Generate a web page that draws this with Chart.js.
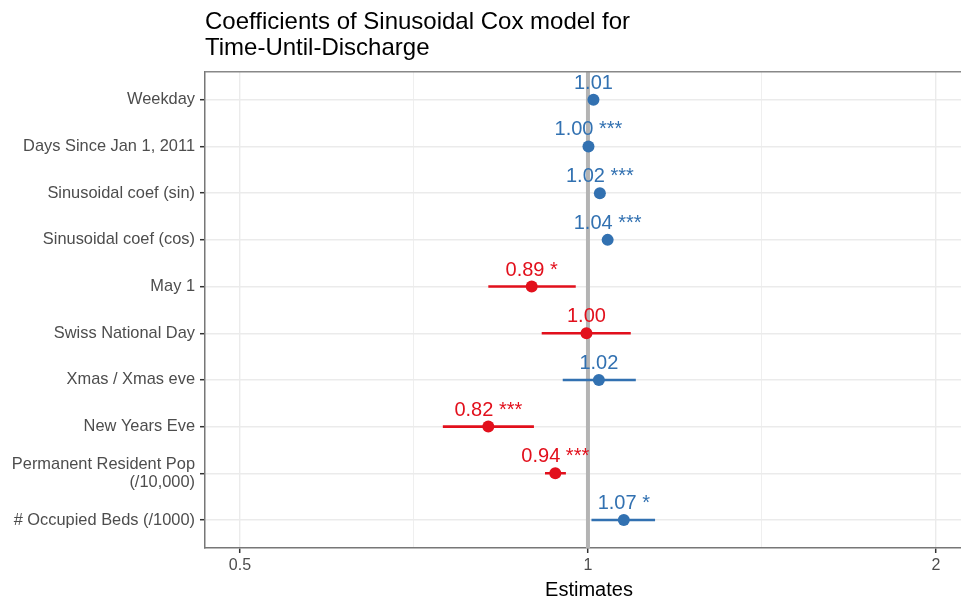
<!DOCTYPE html>
<html lang="en">
<head>
  <meta charset="UTF-8">
  <title>Coefficients of Sinusoidal Cox model</title>
  <script src="https://cdn.jsdelivr.net/npm/chart.js"></script>
  <style>
    body { margin: 0; background: #fff; overflow: hidden; }
  </style>
</head>
<body>
  <!-- the panel runs a little past the right edge of the window, as in the original -->
  <canvas id="chartCoef" width="973" height="597"></canvas>

  <script>
    // row labels, top to bottom
    const categories = [
      'Weekday',
      'Days Since Jan 1, 2011',
      'Sinusoidal coef (sin)',
      'Sinusoidal coef (cos)',
      'May 1',
      'Swiss National Day',
      'Xmas / Xmas eve',
      'New Years Eve',
      ['Permanent Resident Pop', '(/10,000)'],
      '# Occupied Beds (/1000)'
    ];
    const estimates = [1.011, 1.001, 1.024, 1.040, 0.894, 0.997, 1.022, 0.820, 0.937, 1.074];
    const ciLow  = [1.006, 1.000, 1.019, 1.035, 0.820, 0.912, 0.951, 0.749, 0.918, 1.007];
    const ciHigh = [1.016, 1.002, 1.029, 1.045, 0.976, 1.089, 1.100, 0.898, 0.957, 1.143];
    const stars  = ['', '***', '***', '***', '*', '', '', '***', '***', '*'];

    const xTickValues = [0.5, 0.7071, 1, 1.4142, 2];
    const xTickLabels = ['0.5', '', '1', '', '2'];

    const BLUE = '#3271b1';
    const RED = '#e2101c';
    const colorOf = v => v < 1 ? RED : BLUE;

    // error bars, one small line per row
    const ciSets = categories.map((c, i) => ({
      type: 'line',
      data: [{ x: ciLow[i], y: i }, { x: ciHigh[i], y: i }],
      borderColor: colorOf(estimates[i]),
      borderWidth: 2.6,
      pointRadius: 0,
      order: 2
    }));

    const pointSet = {
      type: 'scatter',
      data: estimates.map((e, i) => ({ x: e, y: i })),
      pointBackgroundColor: estimates.map(colorOf),
      pointBorderWidth: 0,
      pointRadius: 6,
      order: 1
    };

    // grey reference line at 1 + frame on top
    const refLine = {
      id: 'refLine',
      beforeDatasetsDraw(chart) {
        const { ctx, chartArea, scales } = chart;
        const x = scales.x.getPixelForValue(1);
        ctx.save();
        ctx.strokeStyle = '#b4b4b4';
        ctx.lineWidth = 4;
        ctx.beginPath();
        ctx.moveTo(x, chartArea.top);
        ctx.lineTo(x, chartArea.bottom);
        ctx.stroke();
        ctx.strokeStyle = '#888';
        ctx.lineWidth = 1.5;
        ctx.beginPath();
        ctx.moveTo(chartArea.left, chartArea.top);
        ctx.lineTo(chartArea.right, chartArea.top);
        ctx.stroke();
        ctx.restore();
      }
    };

    // value labels above points
    const valueLabels = {
      id: 'valueLabels',
      afterDatasetsDraw(chart) {
        const ctx = chart.ctx;
        const meta = chart.getDatasetMeta(chart.data.datasets.length - 1);
        ctx.save();
        ctx.font = '20px "Liberation Sans", Arial, sans-serif';
        ctx.textAlign = 'center';
        ctx.textBaseline = 'alphabetic';
        meta.data.forEach((pt, i) => {
          const txt = estimates[i].toFixed(2) + (stars[i] ? ' ' + stars[i] : '');
          ctx.fillStyle = colorOf(estimates[i]);
          ctx.fillText(txt, pt.x, pt.y - 11);
        });
        ctx.restore();
      }
    };

    new Chart(document.getElementById('chartCoef'), {
      data: { datasets: [...ciSets, pointSet] },
      options: {
        responsive: false,
        animation: false,
        layout: { autoPadding: false, padding: 0 },
        plugins: {
          legend: { display: false },
          tooltip: { enabled: false },
          title: {
            display: true,
            text: ['Coefficients of Sinusoidal Cox model for', 'Time-Until-Discharge'],
            align: 'start',
            fullSize: false,
            color: '#000',
            font: { family: '"Liberation Sans", Arial, sans-serif', size: 24, weight: 'normal', lineHeight: 1.1 },
            padding: { top: 9, bottom: 10 }
          }
        },
        scales: {
          x: {
            type: 'logarithmic',
            min: 0.4664,
            max: 2.153,
            afterBuildTicks: s => { s.ticks = xTickValues.map(v => ({ value: v })); },
            afterFit: s => { s.height = 49; s.paddingLeft = 0; s.paddingRight = 0; },
            ticks: {
              autoSkip: false,
              maxRotation: 0,
              padding: 3,
              color: '#4d4d4d',
              font: { family: '"Liberation Sans", Arial, sans-serif', size: 16 },
              callback: (v, i) => xTickLabels[i]
            },
            grid: {
              color: '#ebebeb',
              lineWidth: c => (c.index % 2 ? 0.8 : 1.4),
              tickColor: c => (c.index % 2 ? 'rgba(0,0,0,0)' : '#333'),
              tickLength: 5,
              tickWidth: 1.5
            },
            border: { color: '#777', width: 1.5 },
            title: {
              display: true,
              text: 'Estimates',
              color: '#000',
              font: { family: '"Liberation Sans", Arial, sans-serif', size: 20 },
              padding: { top: 0, bottom: -5 }
            }
          },
          y: {
            type: 'linear',
            reverse: true,
            min: -0.6,
            max: 9.6,
            afterBuildTicks: s => { s.ticks = categories.map((c, i) => ({ value: i })); },
            afterFit: s => { s.width = 205; },
            ticks: {
              autoSkip: false,
              padding: 5,
              color: '#4d4d4d',
              font: { family: '"Liberation Sans", Arial, sans-serif', size: 16.4, lineHeight: 1.1 },
              callback: v => categories[v]
            },
            grid: {
              color: '#ebebeb',
              lineWidth: 1.4,
              tickColor: '#333',
              tickLength: 5,
              tickWidth: 1.5
            },
            border: { color: '#777', width: 1.5 }
          }
        }
      },
      plugins: [refLine, valueLabels]
    });
  </script>
</body>
</html>
